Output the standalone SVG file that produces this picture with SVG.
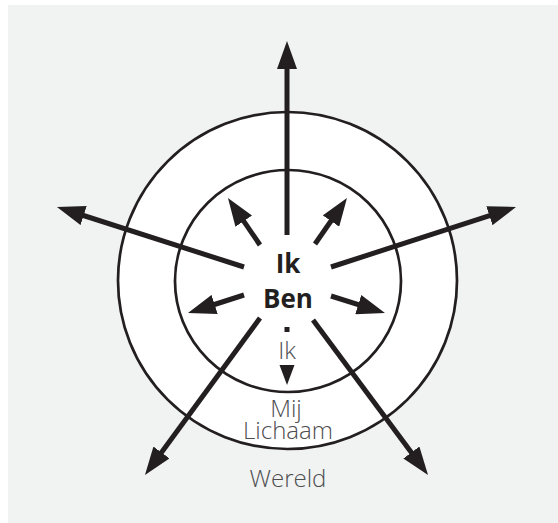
<svg xmlns="http://www.w3.org/2000/svg" width="558" height="523" viewBox="0 0 558 523">
  <style>
    .ring { fill: #ffffff; stroke: #231f20; stroke-width: 2.7; }
    .shaft { stroke: #231f20; stroke-width: 5; fill: none; marker-end: url(#head); }
    .bold { font-family: "Open Sans", "Liberation Sans", sans-serif; font-weight: 700; font-size: 26px; fill: #231f20; text-anchor: middle; }
    .light { font-family: "Open Sans", "Liberation Sans", sans-serif; font-weight: 300; font-size: 24px; fill: #4d4d4f; text-anchor: middle; }
  </style>
  <defs>
    <marker id="head" markerUnits="userSpaceOnUse" markerWidth="28" markerHeight="20" viewBox="0 0 28 20" refX="10" refY="10" orient="auto">
      <path d="M0,0 L28,10 L0,20 z" fill="#231f20"/>
    </marker>
  </defs>
  <rect x="8" y="5" width="550" height="518" fill="#f1f2f2"/>
  <g id="wereld">
    <ellipse class="ring" cx="287.5" cy="280.5" rx="169.5" ry="168.5"/>
    <text class="light" x="288" y="487">Wereld</text>
  </g>
  <g id="lichaam">
    <ellipse class="ring" cx="288" cy="281" rx="113" ry="111"/>
    <text class="light" x="286" y="417">Mij</text>
    <text class="light" x="288" y="439">Lichaam</text>
  </g>
  <g id="ik-ben">
    <text class="bold" x="288" y="273">Ik</text>
    <text class="bold" x="288" y="308">Ben</text>
    <rect x="284.5" y="327" width="5" height="5" fill="#231f20"/>
  </g>
  <g id="ik">
    <text class="light" x="287" y="359">Ik</text>
  </g>
  <g id="connectors">
    <line class="shaft" x1="287" y1="235" x2="287" y2="59"/>
    <line class="shaft" x1="244" y1="267" x2="74.1" y2="212.5"/>
    <line class="shaft" x1="331" y1="267" x2="498.9" y2="212.6"/>
    <line class="shaft" x1="260" y1="318" x2="155.6" y2="460.5"/>
    <line class="shaft" x1="313" y1="320" x2="417.3" y2="460.5"/>
    <line class="shaft" x1="260" y1="245" x2="238.1" y2="212.9"/>
    <line class="shaft" x1="315" y1="244" x2="336.7" y2="212.8"/>
    <line class="shaft" x1="244" y1="295" x2="205.1" y2="307.5"/>
    <line class="shaft" x1="331" y1="296" x2="367.8" y2="307.6"/>
    <polygon points="279.5,365 294.5,365 287,385" fill="#231f20"/>
  </g>
</svg>
